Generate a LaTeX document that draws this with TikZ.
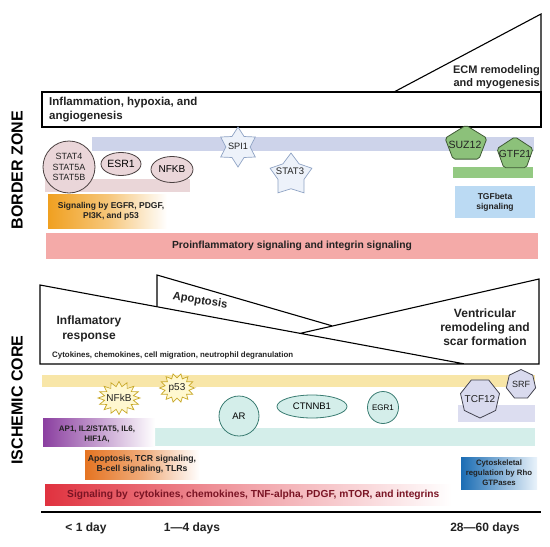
\documentclass[tikz,border=0pt]{standalone}
\usepackage{fontspec}
\setmainfont{Liberation Sans}
\usetikzlibrary{shapes.geometric}
\newcommand{\myfs}[2]{\fontsize{#1}{#2}\selectfont}
\definecolor{lavA}{HTML}{CDD3EA}
\definecolor{lavB}{HTML}{DCDDF0}
\definecolor{starF}{HTML}{EDF2FA}
\definecolor{starD}{HTML}{8FA3C4}
\definecolor{pinkF}{HTML}{EAD6D9}
\definecolor{pinkD}{HTML}{4A4040}
\definecolor{pinkbar}{HTML}{EAD6D8}
\definecolor{salmon}{HTML}{F4AAA8}
\definecolor{greenF}{HTML}{8CC17A}
\definecolor{greenD}{HTML}{3F5A35}
\definecolor{greenbar}{HTML}{93C982}
\definecolor{tgfB}{HTML}{BBDAF3}
\definecolor{yelB}{HTML}{F8E6A8}
\definecolor{burstF}{HTML}{FFF8D0}
\definecolor{burstD}{HTML}{C8A828}
\definecolor{tealF}{HTML}{D4EEEA}
\definecolor{tealD}{HTML}{3A7C72}
\definecolor{hepF}{HTML}{D9DAEE}
\definecolor{hepD}{HTML}{444450}
\definecolor{orgA}{HTML}{F0A020}
\definecolor{orgB}{HTML}{E57422}
\definecolor{purA}{HTML}{8B3FA0}
\definecolor{redA}{HTML}{E0323F}
\definecolor{redT}{HTML}{7A1424}
\definecolor{blueA}{HTML}{1B6DB4}
\definecolor{blueL}{HTML}{EAF3FB}
\definecolor{txtD}{HTML}{222222}
\begin{document}
\begin{tikzpicture}[x=1pt,y=-1pt,
  frame/.style={draw=black,line width=1.1pt},
  zone/.style={font=\myfs{16}{18}\bfseries, rotate=90, inner sep=0pt},
  hd/.style={font=\myfs{11.5}{14}\bfseries, inner sep=0pt, text=txtD},
  gene/.style={inner sep=0pt, text=txtD},
  box/.style={inner sep=0pt, text=txtD},
  burst/.style={fill=burstF, draw=burstD, line width=0.7pt, line join=miter},
  pinkel/.style={ellipse, inner sep=0pt, fill=pinkF, draw=pinkD, line width=0.8pt},
  tealel/.style={ellipse, inner sep=0pt, fill=tealF, draw=tealD, line width=0.8pt},
  pent/.style={regular polygon, regular polygon sides=5, inner sep=0pt, fill=greenF, draw=greenD, line width=0.8pt, rounded corners=2pt},
  hept/.style={regular polygon, regular polygon sides=7, inner sep=0pt, fill=hepF, draw=hepD, line width=0.8pt}
]
\useasboundingbox (0,0) rectangle (550,547);

% ---------- zone labels
\node[zone] (bz) at (17,170) {BORDER ZONE};
\node[zone] (ic) at (17,400) {ISCHEMIC CORE};

% ---------- border zone frames
\draw[frame] (42,92) rectangle (541,127);
\draw[frame, line join=miter] (394,92) -- (541,14) -- (541,92);
\node[hd, align=left, anchor=west] (infl) at (49,110) {Inflammation, hypoxia, and\\angiogenesis};
\node[hd, align=right, anchor=east, font=\myfs{11}{13}\bfseries] (ecm) at (540,77) {ECM remodeling\\and myogenesis};

% ---------- border zone bars
\fill[lavA] (92,137) rectangle (534,151);
\fill[pinkbar] (45,179) rectangle (190,192);
\fill[greenbar] (453,167) rectangle (533,178);

% ---------- border zone genes
\node[star, star points=6, star point ratio=1.65, minimum size=40, inner sep=0pt, fill=starF, draw=starD, line width=0.7pt] (spi1) at (238,147) {};
\node[gene, font=\myfs{9.2}{11}] (spi1t) at (238,146) {SPI1};
\node[star, star points=5, star point ratio=1.6, minimum size=44, inner sep=0pt, fill=starF, draw=starD, line width=0.7pt] (stat3) at (291,175) {};
\node[gene, font=\myfs{9.5}{11}] (stat3t) at (290,171) {STAT3};

\node[pinkel, minimum width=52, minimum height=52] (stat) at (69,167) {};
\node[gene, font=\myfs{9}{10.5}, align=center] (statt) at (69,167) {STAT4\\STAT5A\\STAT5B};
\node[pinkel, minimum width=40, minimum height=23, font=\myfs{10.5}{12}] (esr1) at (121,164) {ESR1};
\node[pinkel, minimum width=42, minimum height=26, font=\myfs{10}{12}] (nfkbb) at (172,169.5) {NFKB};

\node[pent, minimum size=44, yscale=0.85] (suz) at (466,144) {};
\node[gene, font=\myfs{10.5}{12}] (suzt) at (465,145) {SUZ12};
\node[pent, minimum size=38, yscale=0.9] (gtf) at (515,154) {};
\node[gene, font=\myfs{10.3}{12}] (gtft) at (515,154) {GTF21};

\node[box, minimum width=119, minimum height=34, left color=orgA, right color=white, middle color=orgA!60!white] (egfr) at (107.5,211) {};
\node[box, font=\myfs{8.5}{10.5}\bfseries, align=center] (egfrt) at (111,211.5) {Signaling by EGFR, PDGF,\\PI3K, and p53};
\node[box, fill=tgfB, minimum width=80, minimum height=32, align=center, font=\myfs{8.5}{10}\bfseries] (tgf) at (495,202) {TGFbeta\\signaling};
\node[box, fill=salmon, minimum width=492, minimum height=26, font=\myfs{10.3}{12}\bfseries] (proinf) at (292,246) {Proinflammatory signaling and integrin signaling};

% ---------- ischemic core frames
\draw[frame, line join=miter] (300,333.4) -- (539,279) -- (539,364) -- (40,364) -- (40,285) -- (465,364);
\draw[frame, line join=miter] (157,306.7) -- (157,275) -- (332,325.8);
\node[hd, rotate=-9, font=\myfs{11.3}{13}\bfseries] (apo) at (200,301) {Apoptosis};
\node[hd, align=center, font=\myfs{12}{15}\bfseries] (infr) at (89,329) {Inflamatory\\response};
\node[hd, anchor=west, font=\myfs{7.9}{9}\bfseries] (cyto) at (52,355) {Cytokines, chemokines, cell migration, neutrophil degranulation};
\node[hd, align=center, font=\myfs{12}{14}\bfseries] (vent) at (485,327) {Ventricular\\remodeling and\\scar formation};

% ---------- ischemic core bars
\fill[yelB] (42,375) rectangle (535,387);
\fill[lavB] (458,405) rectangle (535,422);
\fill[tealF] (153,428) rectangle (535,446);

% ---------- ischemic core genes
\coordinate (nfkbc) at (119,398);
\begin{scope}[shift={(nfkbc)}]
\draw[burst] plot[samples=33, domain=0:360, variable=\t] ({21*(0.85+0.15*cos(16*\t))*cos(\t)}, {16.5*(0.85+0.15*cos(16*\t))*sin(\t)}) -- cycle;
\end{scope}
\node[gene, font=\myfs{10}{12}] (nfkb) at (nfkbc) {NFkB};
\coordinate (p53c) at (177,388);
\begin{scope}[shift={(p53c)}]
\draw[burst] plot[samples=29, domain=0:360, variable=\t] ({17.5*(0.85+0.15*cos(14*\t))*cos(\t)}, {14.5*(0.85+0.15*cos(14*\t))*sin(\t)}) -- cycle;
\end{scope}
\node[gene, font=\myfs{10}{12}] (p53) at (p53c) {p53};

\node[tealel, minimum width=40, minimum height=40, font=\myfs{9.5}{11}] (ar) at (239,416) {AR};
\node[tealel, minimum width=70, minimum height=23, font=\myfs{9.5}{11}] (ctnnb1) at (312,406.5) {CTNNB1};
\node[tealel, minimum width=31, minimum height=32, font=\myfs{8}{10}] (egr1) at (383,407.5) {EGR1};
\node[hept, minimum size=40, shape border rotate=180] (tcf) at (480,398) {};
\node[gene, font=\myfs{10}{12}] (tcft) at (480,399) {TCF12};
\node[hept, minimum size=30] (srf) at (521,384.5) {};
\node[gene, font=\myfs{9}{11}] (srft) at (521,384) {SRF};

\node[box, minimum width=112, minimum height=28, left color=purA, right color=white, middle color=purA!50!white] (ap1) at (99,432) {};
\node[box, font=\myfs{8}{10}\bfseries, align=center] (ap1t) at (97,434) {AP1, IL2/STAT5, IL6,\\HIF1A,};
\node[box, minimum width=115, minimum height=29, left color=orgB, right color=white, middle color=orgB!60!white] (apt) at (142.5,464.5) {};
\node[box, font=\myfs{8.7}{10.5}\bfseries, align=center] (aptt) at (142,464.5) {Apoptosis, TCR signaling,\\B-cell signaling, TLRs};
\node[box, minimum width=407, minimum height=21, left color=redA, right color=white, middle color=redA!45!white] (sig) at (248.5,494.5) {};
\node[box, anchor=west, text=redT, font=\myfs{10.2}{12}\bfseries] (sigt) at (67,495) {Signaling by~ cytokines, chemokines, TNF-alpha, PDGF, mTOR, and integrins};
\node[box, minimum width=76, minimum height=32, left color=blueA, right color=blueL, middle color=blueA!55!white] (cyt) at (499,473) {};
\node[box, font=\myfs{7.8}{10}\bfseries, align=center] (cytt) at (499,473) {Cytoskeletal\\regulation by Rho\\GTPases};

% ---------- time axis
\coordinate (ax0) at (41,512);
\coordinate (ax1) at (541,512);
\draw[line width=1.2pt] (ax0) -- (ax1);
\node[hd, font=\myfs{12}{14}\bfseries] (d1) at (86,528) {< 1 day};
\node[hd, font=\myfs{12}{14}\bfseries] (d2) at (192,528) {1—4 days};
\node[hd, font=\myfs{12}{14}\bfseries] (d3) at (485,528) {28—60 days};
\end{tikzpicture}
\end{document}
